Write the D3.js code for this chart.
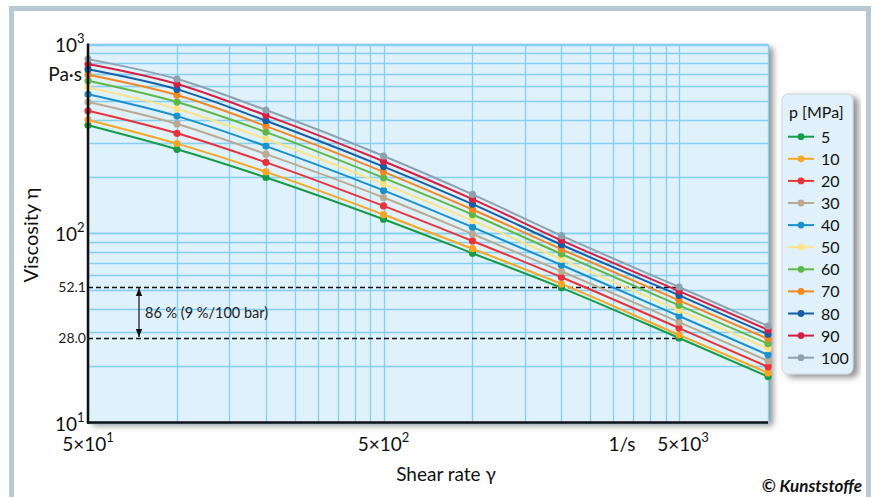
<!DOCTYPE html>
<html>
<head>
<meta charset="utf-8">
<script src="https://cdn.jsdelivr.net/npm/d3@7"></script>
<style>
  body { margin: 0; background: #fff; }
  svg { font-family: Lato, 'Open Sans', sans-serif; }
</style>
</head>
<body>
<div id="chart"></div>
<script>
// shear rate (1/s) where the points sit
const shearRates = [50, 100, 200, 500, 1000, 2000, 5000, 10000];
const pressures = [5, 10, 20, 30, 40, 50, 60, 70, 80, 90, 100];

// viscosity (Pa·s) per pressure level
const visc5 = [374, 279, 198, 119, 78.6, 51.6, 28.0, 17.5];
const visc10 = [399, 299, 212, 126, 83.1, 54.1, 29.1, 18.3];
const visc20 = [446, 339, 238, 140, 91.3, 58.7, 31.6, 19.7];
const visc30 = [496, 380, 263, 155, 99.4, 63.1, 34.0, 21.2];
const visc40 = [545, 418, 290, 169, 108, 68.1, 36.6, 22.8];
const visc50 = [593, 457, 316, 183, 117, 73.0, 39.2, 24.6];
const visc60 = [643, 496, 344, 197, 126, 77.9, 41.7, 26.1];
const visc70 = [692, 540, 370, 212, 134, 82.5, 44.3, 27.7];
const visc80 = [739, 579, 395, 226, 143, 87.2, 47.1, 29.3];
const visc90 = [788, 618, 422, 241, 152, 92.0, 49.6, 30.9];
const visc100 = [837, 657, 450, 257, 161, 97.4, 52.1, 32.4];

const colors = ['#169c48', '#f6a623', '#e8333b', '#bcaa90', '#1a91cc', '#fde386',
  '#5fb846', '#f5871f', '#145fa8', '#d91f40', '#8ea1ae'];

// marked levels (dashed lines)
const markHigh = 52.1;
const markLow = 28.0;
const markAt = 5000;
const markText = '86 % (9 %/100 bar)';

const xTickVals = [50, 500, 5000];
const xTickExp = ['1', '2', '3'];
const yTickVals = [1000, 100, 10];
const yTickExp = ['3', '2', '1'];

const series = [visc5, visc10, visc20, visc30, visc40, visc50, visc60, visc70, visc80, visc90, visc100]
  .map((v, i) => ({
    p: pressures[i],
    color: colors[i],
    values: v.map((d, j) => ({ x: shearRates[j], y: d }))
  }));

const width = 874;
const height = 497;
const plot = { left: 88, right: 768, top: 44.5, bottom: 422.5 };

const svg = d3.select('#chart')
  .append('svg')
  .attr('width', width)
  .attr('height', height);

const defs = svg.append('defs');
defs.append('filter')
  .attr('id', 'shadow')
  .attr('x', '-5%').attr('y', '-5%').attr('width', '115%').attr('height', '115%')
  .append('feDropShadow')
  .attr('dx', 5).attr('dy', 3)
  .attr('stdDeviation', 3)
  .attr('flood-color', '#444')
  .attr('flood-opacity', 0.6);

// outer frame
svg.append('rect')
  .attr('x', 11.5).attr('y', 8.5)
  .attr('width', 857).attr('height', 520)
  .attr('fill', 'none')
  .attr('stroke', '#b9c9d3')
  .attr('stroke-width', 5);

const xScale = d3.scaleLog()
  .domain([50, 10000])
  .range([plot.left, plot.right]);

const yScale = d3.scaleLog()
  .domain([10, 1000])
  .range([plot.bottom, plot.top]);

// plot background
svg.append('rect')
  .attr('x', plot.left).attr('y', plot.top)
  .attr('width', plot.right - plot.left)
  .attr('height', plot.bottom - plot.top)
  .attr('fill', '#dff1fb')
  .attr('filter', 'url(#shadow)');

// grid
const xGrid = [];
[10, 100, 1000, 10000].forEach(k => {
  for (let m = 1; m <= 5; m += 0.5) {
    const v = m * k;
    if (v >= 50 && v <= 10000) xGrid.push(v);
  }
});
const yGrid = [];
[10, 100].forEach(k => {
  for (let m = 1; m <= 10; m++) yGrid.push(m * k);
});

const grid = svg.append('g').attr('stroke', '#85d0f2').attr('stroke-width', 1.3);
grid.selectAll('.gx')
  .data(xGrid)
  .enter().append('line')
  .attr('x1', d => Math.round(xScale(d)) + 0.5).attr('x2', d => Math.round(xScale(d)) + 0.5)
  .attr('y1', plot.top).attr('y2', plot.bottom);
grid.selectAll('.gy')
  .data(yGrid)
  .enter().append('line')
  .attr('x1', plot.left).attr('x2', plot.right)
  .attr('y1', d => Math.round(yScale(d)) + 0.5).attr('y2', d => Math.round(yScale(d)) + 0.5);

// dashed markers
const marks = svg.append('g');
[markHigh, markLow].forEach(v => {
  marks.append('line')
    .attr('x1', plot.left).attr('x2', xScale(markAt))
    .attr('y1', Math.round(yScale(v)) + 0.5).attr('y2', Math.round(yScale(v)) + 0.5)
    .attr('stroke', '#111')
    .attr('stroke-width', 1.3)
    .attr('stroke-dasharray', '5,3');
  marks.append('text')
    .attr('x', plot.left - 2)
    .attr('y', yScale(v) + 5)
    .attr('text-anchor', 'end')
    .attr('font-size', 14)
    .attr('fill', '#222')
    .text(v.toFixed(1));
});

defs.append('marker')
  .attr('id', 'arrow')
  .attr('viewBox', '0 0 10 10')
  .attr('refX', 10).attr('refY', 5)
  .attr('markerWidth', 7).attr('markerHeight', 7)
  .attr('orient', 'auto-start-reverse')
  .append('path')
  .attr('d', 'M0,1 L10,5 L0,9 Z')
  .attr('fill', '#111');

const arrowX = 139;
marks.append('line')
  .attr('x1', arrowX).attr('x2', arrowX)
  .attr('y1', yScale(markHigh) + 1).attr('y2', yScale(markLow) - 1)
  .attr('stroke', '#111')
  .attr('stroke-width', 1.2)
  .attr('marker-start', 'url(#arrow)')
  .attr('marker-end', 'url(#arrow)');
marks.append('text')
  .attr('x', arrowX + 6)
  .attr('y', (yScale(markHigh) + yScale(markLow)) / 2 + 5)
  .attr('font-size', 14.5)
  .attr('fill', '#222')
  .text(markText);

// curves
const line = d3.line()
  .x(d => xScale(d.x))
  .y(d => yScale(d.y))
  .curve(d3.curveMonotoneX);

const lines = svg.append('g');
series.forEach(s => {
  lines.append('path')
    .datum(s.values)
    .attr('fill', 'none')
    .attr('stroke', s.color)
    .attr('stroke-width', 2)
    .attr('d', line);
  lines.selectAll(null)
    .data(s.values)
    .enter().append('circle')
    .attr('cx', d => xScale(d.x))
    .attr('cy', d => yScale(d.y))
    .attr('r', 3.6)
    .attr('fill', s.color);
});

// axis lines
svg.append('line')
  .attr('x1', plot.left).attr('x2', plot.right)
  .attr('y1', plot.top).attr('y2', plot.top)
  .attr('stroke', '#85d0f2').attr('stroke-width', 1.5);
svg.append('line')
  .attr('x1', plot.left).attr('x2', plot.left)
  .attr('y1', plot.top - 1).attr('y2', plot.bottom + 1.2)
  .attr('stroke', '#111').attr('stroke-width', 2.5);
svg.append('line')
  .attr('x1', plot.left - 1).attr('x2', plot.right)
  .attr('y1', plot.bottom).attr('y2', plot.bottom)
  .attr('stroke', '#111').attr('stroke-width', 2.5);

// y tick labels
const yLabels = svg.append('g').attr('fill', '#111').attr('font-size', 19);
yTickVals.forEach((v, i) => {
  const t = yLabels.append('text')
    .attr('x', 55)
    .attr('y', yScale(v) + (i === 2 ? 8 : 7));
  t.append('tspan').text('10');
  t.append('tspan').attr('dy', -9).attr('font-size', 13).text(yTickExp[i]);
});
yLabels.append('text')
  .attr('x', 82).attr('y', 81)
  .attr('text-anchor', 'end')
  .text('Pa·s');

// x tick labels
const xLabels = svg.append('g').attr('fill', '#111').attr('font-size', 19);
xTickVals.forEach((v, i) => {
  const t = xLabels.append('text')
    .attr('x', xScale(v) + (i === 2 ? 4 : 0))
    .attr('y', 451)
    .attr('text-anchor', 'middle');
  t.append('tspan').text('5×10');
  t.append('tspan').attr('dy', -9).attr('font-size', 13).text(xTickExp[i]);
});
xLabels.append('text')
  .attr('x', xScale(markAt) - 57)
  .attr('y', 451)
  .attr('text-anchor', 'middle')
  .text('1/s');

// titles
svg.append('text')
  .attr('x', 446).attr('y', 481)
  .attr('text-anchor', 'middle')
  .attr('font-size', 19)
  .attr('fill', '#111')
  .text('Shear rate γ');

svg.append('text')
  .attr('transform', 'translate(38, 235) rotate(-90)')
  .attr('text-anchor', 'middle')
  .attr('font-size', 20)
  .attr('fill', '#111')
  .text('Viscosity η');

svg.append('text')
  .attr('x', 862).attr('y', 492)
  .attr('text-anchor', 'end')
  .attr('font-size', 17)
  .attr('font-weight', 'bold')
  .attr('font-style', 'italic')
  .attr('fill', '#111')
  .text('© Kunststoffe');

// legend
const legend = svg.append('g').attr('transform', 'translate(782, 94)');
legend.append('rect')
  .attr('width', 71).attr('height', 280)
  .attr('rx', 6)
  .attr('fill', '#e0f1fb')
  .attr('stroke', '#c9d3da')
  .attr('stroke-width', 1)
  .attr('filter', 'url(#shadow)');
legend.append('text')
  .attr('x', 7).attr('y', 24)
  .attr('font-size', 16)
  .attr('fill', '#111')
  .text('p [MPa]');

const item = legend.selectAll('.item')
  .data(series)
  .enter().append('g')
  .attr('transform', (d, i) => `translate(0, ${42.7 + i * 22.1})`);
item.append('line')
  .attr('x1', 6).attr('x2', 32)
  .attr('stroke', d => d.color)
  .attr('stroke-width', 2);
item.append('circle')
  .attr('cx', 19).attr('r', 3.4)
  .attr('fill', d => d.color);
item.append('text')
  .attr('x', 39).attr('y', 6)
  .attr('font-size', 16)
  .attr('fill', '#111')
  .text(d => d.p);
</script>
</body>
</html>
